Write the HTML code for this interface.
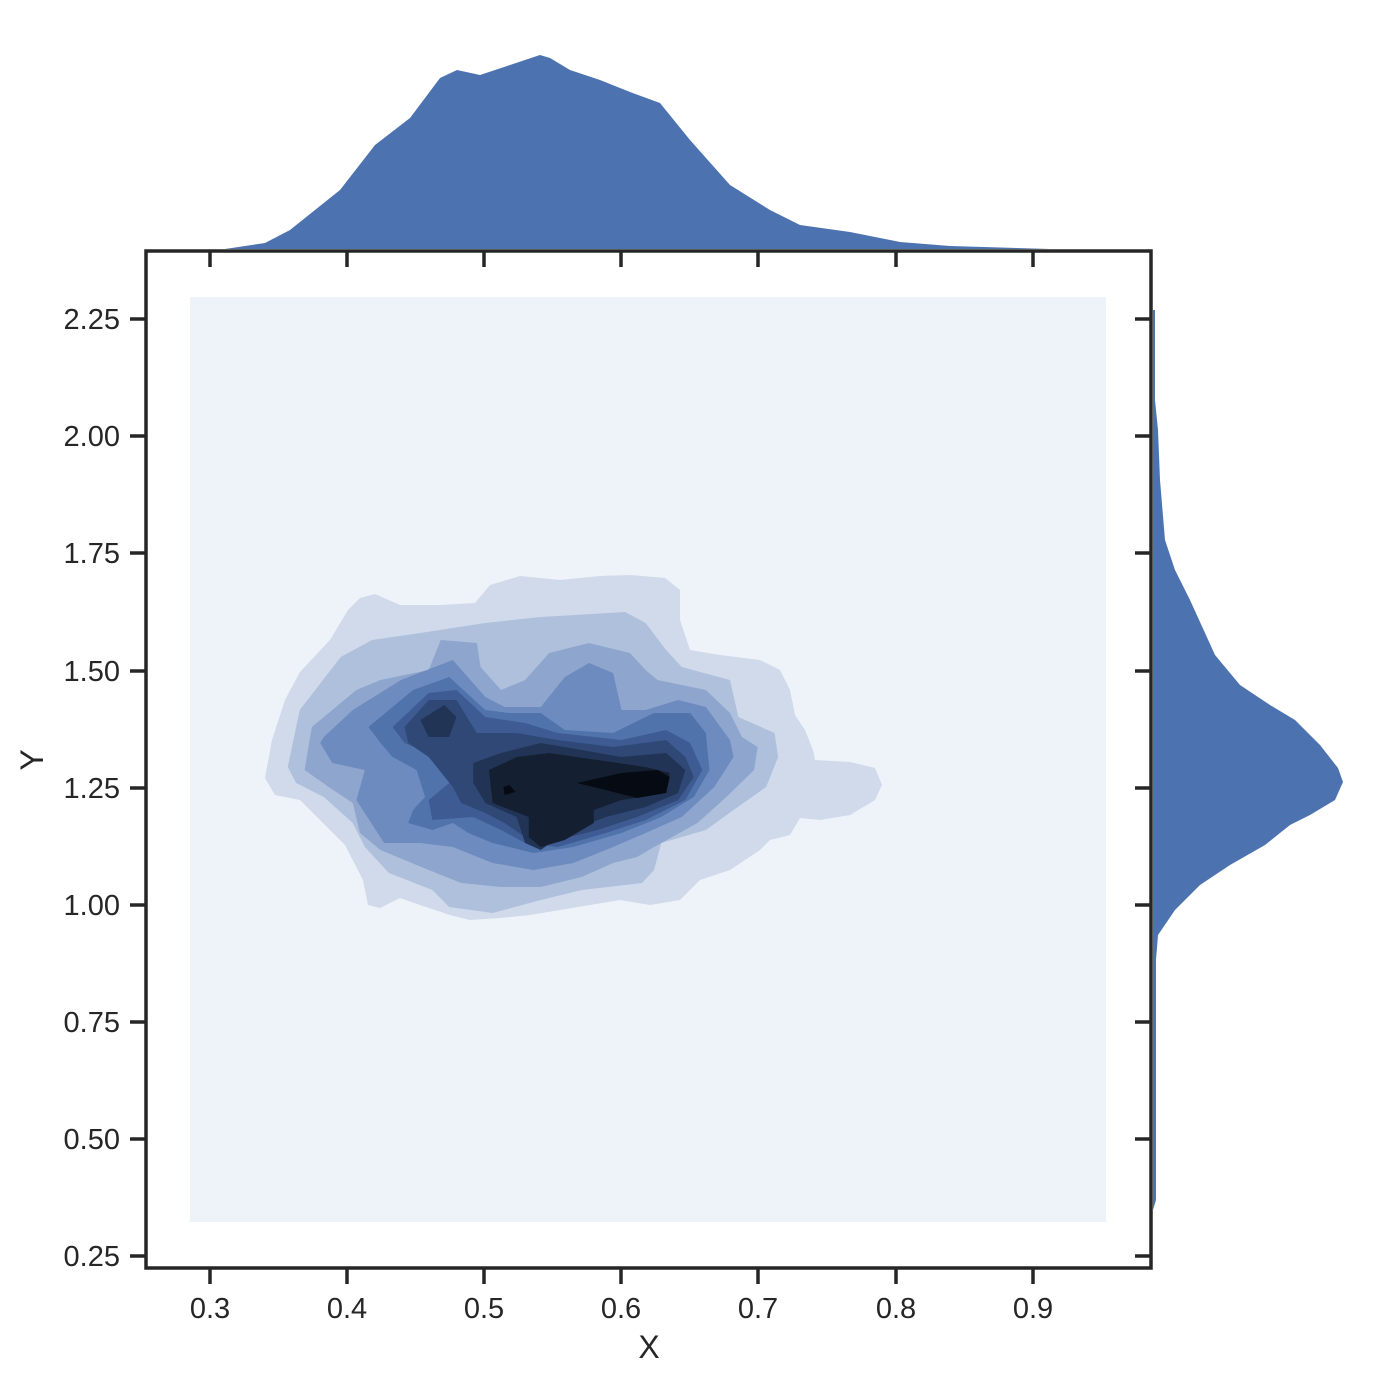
<!DOCTYPE html>
<html><head><meta charset="utf-8"><style>
html,body{margin:0;padding:0;background:#fff;}
svg{display:block;}
text{font-family:"Liberation Sans",Arial,sans-serif;fill:#262626;}
</style></head><body>
<svg width="1400" height="1400" viewBox="0 0 1400 1400" xmlns="http://www.w3.org/2000/svg">
<rect width="1400" height="1400" fill="#fff"/>
<path fill="#4c72b0" d="M225,249 L265,243 L290,230 L340,190 L375,145 L410,118 L440,78 L457,70 L480,75 L510,65 L540,55 L550,58 L570,70 L600,80 L630,92 L660,103 L690,140 L730,185 L770,210 L800,225 L850,232 L900,242 L950,246 L1050,249 Z"/>
<path fill="#4c72b0" d="M1153,310 L1155,310 L1155,400 L1158,430 L1160,480 L1165,540 L1175,570 L1190,600 L1215,655 L1240,685 L1270,705 L1295,720 L1320,745 L1338,768 L1343,782 L1335,800 L1310,815 L1290,825 L1265,845 L1230,865 L1200,885 L1175,910 L1158,935 L1156,960 L1156,1200 L1153,1210 Z"/>
<rect x="190" y="297" width="916" height="925" fill="#eef2f9"/>
<path fill="#d0daea" d="M265,778 L272,740 L285,700 L300,672 L330,640 L348,610 L360,598 L375,594 L400,605 L440,605 L475,603 L490,585 L520,576 L560,580 L600,576 L630,575 L665,578 L680,590 L680,620 L690,650 L720,655 L760,660 L780,670 L790,690 L795,715 L805,730 L813,750 L815,760 L850,762 L875,768 L882,785 L875,800 L850,815 L820,820 L800,818 L790,835 L770,840 L760,850 L730,870 L700,880 L680,900 L650,905 L620,900 L590,905 L560,910 L530,915 L500,918 L470,920 L450,915 L420,905 L400,898 L380,908 L368,905 L363,880 L345,845 L320,820 L300,800 L275,795 Z"/>
<g transform="translate(260,0) scale(1.205,1) translate(-260,0)">
<path fill="#afc0dc" d="M283,767 L293,710 L327,657 L353,640 L393,633 L447,623 L493,617 L563,612 L580,623 L597,650 L610,667 L650,680 L657,717 L687,733 L690,757 L680,787 L653,810 L630,830 L593,843 L587,870 L577,883 L527,890 L493,900 L453,913 L417,907 L403,890 L367,873 L347,847 L337,823 L313,797 L290,783 Z"/>
<path fill="#8ea5cd" d="M297,770 L303,727 L340,690 L360,680 L400,670 L410,640 L440,643 L443,667 L460,690 L480,680 L500,653 L533,643 L567,653 L580,670 L590,680 L630,690 L650,713 L660,737 L673,747 L670,770 L647,797 L623,823 L587,847 L573,857 L553,863 L527,877 L493,887 L460,887 L427,883 L400,870 L360,850 L343,833 L337,803 L317,787 Z"/>
<path fill="#afc0dc" d="M455,667 L462,662 L467,670 L462,675 L456,672 Z"/>
<path fill="#6d8bbf" d="M313,737 L337,710 L377,680 L420,660 L447,697 L463,707 L493,707 L513,677 L533,663 L553,673 L560,710 L580,710 L607,700 L630,707 L650,740 L653,757 L637,787 L610,817 L580,833 L553,847 L520,863 L487,870 L453,863 L420,847 L393,843 L363,843 L340,800 L347,770 L320,763 L310,743 Z"/>
<path fill="#5073ac" d="M350,727 L387,690 L417,677 L447,710 L467,713 L493,713 L513,730 L553,733 L587,713 L617,713 L630,733 L633,770 L620,797 L593,817 L560,833 L520,847 L487,853 L453,843 L433,833 L420,823 L403,830 L383,823 L387,810 L397,797 L390,770 L370,757 L360,743 Z"/>
<path fill="#3e5b93" d="M370,727 L400,693 L423,690 L447,717 L480,723 L507,733 L560,740 L597,730 L617,743 L627,770 L613,800 L580,820 L547,833 L507,847 L480,843 L460,830 L437,817 L403,820 L400,800 L420,780 L407,757 L380,743 Z"/>
<path fill="#2f4876" d="M380,727 L400,700 L423,700 L440,733 L473,733 L507,740 L553,747 L597,740 L613,757 L620,777 L607,800 L573,817 L540,830 L507,840 L480,837 L463,823 L447,813 L427,803 L420,787 L400,757 L383,743 Z"/>
<path fill="#223456" d="M393,720 L413,705 L423,717 L417,737 L400,737 Z"/>
<path fill="#223456" d="M437,763 L460,753 L493,743 L527,750 L560,757 L597,753 L613,770 L607,793 L580,807 L547,817 L513,833 L493,850 L480,843 L473,817 L447,803 L437,783 Z"/>
<path fill="#151f32" d="M450,770 L473,757 L500,753 L540,760 L580,767 L600,773 L597,793 L560,800 L537,810 L537,823 L513,840 L493,847 L483,837 L483,817 L453,803 Z"/>
<path fill="#060a12" d="M523,783 L560,773 L590,770 L600,777 L597,793 L573,798 L547,790 Z"/>
<path fill="#060a12" d="M462,787 L467,785 L472,792 L463,795 Z"/>
</g>
<rect x="146" y="251" width="1005" height="1017" fill="none" stroke="#262626" stroke-width="3.5"/>
<g stroke="#262626" stroke-width="3.5">
<line x1="210" y1="1268" x2="210" y2="1284"/><line x1="347" y1="1268" x2="347" y2="1284"/><line x1="484" y1="1268" x2="484" y2="1284"/><line x1="621" y1="1268" x2="621" y2="1284"/><line x1="758" y1="1268" x2="758" y2="1284"/><line x1="896" y1="1268" x2="896" y2="1284"/><line x1="1033" y1="1268" x2="1033" y2="1284"/>
<line x1="210" y1="251" x2="210" y2="267"/><line x1="347" y1="251" x2="347" y2="267"/><line x1="484" y1="251" x2="484" y2="267"/><line x1="621" y1="251" x2="621" y2="267"/><line x1="758" y1="251" x2="758" y2="267"/><line x1="896" y1="251" x2="896" y2="267"/><line x1="1033" y1="251" x2="1033" y2="267"/>
<line x1="130" y1="319" x2="146" y2="319"/><line x1="130" y1="436" x2="146" y2="436"/><line x1="130" y1="553" x2="146" y2="553"/><line x1="130" y1="671" x2="146" y2="671"/><line x1="130" y1="788" x2="146" y2="788"/><line x1="130" y1="905" x2="146" y2="905"/><line x1="130" y1="1022" x2="146" y2="1022"/><line x1="130" y1="1139" x2="146" y2="1139"/><line x1="130" y1="1256" x2="146" y2="1256"/>
<line x1="1135" y1="319" x2="1151" y2="319"/><line x1="1135" y1="436" x2="1151" y2="436"/><line x1="1135" y1="553" x2="1151" y2="553"/><line x1="1135" y1="671" x2="1151" y2="671"/><line x1="1135" y1="788" x2="1151" y2="788"/><line x1="1135" y1="905" x2="1151" y2="905"/><line x1="1135" y1="1022" x2="1151" y2="1022"/><line x1="1135" y1="1139" x2="1151" y2="1139"/><line x1="1135" y1="1256" x2="1151" y2="1256"/>
</g>
<g font-size="29" text-anchor="middle">
<text x="210" y="1318">0.3</text><text x="347" y="1318">0.4</text><text x="484" y="1318">0.5</text><text x="621" y="1318">0.6</text><text x="758" y="1318">0.7</text><text x="896" y="1318">0.8</text><text x="1033" y="1318">0.9</text>
</g>
<g font-size="29" text-anchor="end">
<text x="120" y="329">2.25</text><text x="120" y="446">2.00</text><text x="120" y="563">1.75</text><text x="120" y="681">1.50</text><text x="120" y="798">1.25</text><text x="120" y="915">1.00</text><text x="120" y="1032">0.75</text><text x="120" y="1149">0.50</text><text x="120" y="1266">0.25</text>
</g>
<text x="649" y="1358" font-size="32" text-anchor="middle">X</text>
<text x="0" y="0" font-size="32" text-anchor="middle" transform="translate(43,760) rotate(-90)">Y</text>
</svg>
</body></html>
